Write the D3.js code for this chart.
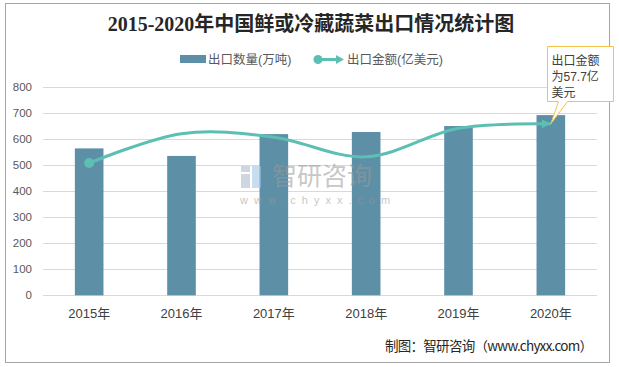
<!DOCTYPE html>
<html><head><meta charset="utf-8">
<script src="https://cdn.jsdelivr.net/npm/d3@7"></script>
<style>body{margin:0;background:#fff}svg{display:block}</style>
</head><body>
<svg id="c" width="619" height="367"></svg>
<script>
const categories = ["2015年","2016年","2017年","2018年","2019年","2020年"];
const volume = [565, 536, 620, 628, 651, 693];          // 出口数量(万吨)
const valueUSD = [44.5, 54.4, 53.2, 46.6, 56.2, 57.7];  // 出口金额(亿美元)
const yTicks = [0,100,200,300,400,500,600,700,800];
const title = "2015-2020年中国鲜或冷藏蔬菜出口情况统计图";
const seriesNames = ["出口数量(万吨)", "出口金额(亿美元)"];
const calloutLines = ["出口金额", "为57.7亿", "美元"];
const source = "制图：智研咨询（www.chyxx.com）";

const barColor = "#5d8fa6", lineColor = "#5cbfb3";
const font = "'Liberation Sans','Noto Sans CJK SC',sans-serif";
const svg = d3.select("#c");

svg.append("rect").attr("x",5.5).attr("y",3.5).attr("width",604).attr("height",359)
  .attr("fill","#fff").attr("stroke","#a6a6a6");

const x = d3.scaleBand().domain(categories).range([43, 597]).paddingInner(0.69).paddingOuter(0.345);
const y = d3.scaleLinear().domain([0, 800]).range([295.3, 87.3]);
const y2 = d3.scaleLinear().domain([0, 70]).range([295.3, 87.3]);

// grid
svg.append("g").selectAll("line").data(yTicks).join("line")
  .attr("x1",43).attr("x2",597).attr("y1",d=>Math.round(y(d))+0.5).attr("y2",d=>Math.round(y(d))+0.5)
  .attr("stroke","#d9d9d9").attr("stroke-width",1);

// y axis labels
const yAxis = d3.axisLeft(y).tickValues(yTicks).tickSize(0).tickPadding(0);
const gy = svg.append("g").attr("transform","translate(32,0)").call(yAxis);
gy.select(".domain").remove();
gy.selectAll("text").attr("font-family",font).attr("font-size",11.5).attr("fill","#595959");

// x axis labels
const xAxis = d3.axisBottom(x).tickSize(0).tickPadding(0);
const gx = svg.append("g").attr("transform","translate(0,309)").call(xAxis);
gx.select(".domain").remove();
gx.selectAll("text").attr("font-family",font).attr("font-size",13).attr("fill","#404040");

// bars
svg.append("g").selectAll("rect").data(volume).join("rect")
  .attr("x",(d,i)=>x(categories[i])).attr("width",x.bandwidth())
  .attr("y",d=>y(d)).attr("height",d=>y(0)-y(d)).attr("fill",barColor);

// watermark
const wm = svg.append("g").attr("opacity",0.55);
wm.append("rect").attr("x",241).attr("y",166).attr("width",9).attr("height",6).attr("fill","#aab4cc");
wm.append("rect").attr("x",241).attr("y",174).attr("width",9).attr("height",14).attr("fill","#aab4cc");
wm.append("rect").attr("x",252).attr("y",166).attr("width",9).attr("height",22).attr("fill","#9cc4e4");
wm.append("text").attr("x",272).attr("y",185).attr("font-family","'Noto Sans CJK SC',sans-serif")
  .attr("font-size",25).attr("fill","#9a9a9a").text("智研咨询");
wm.append("text").attr("x",240).attr("y",204).attr("font-family",font)
  .attr("font-size",11).attr("fill","#9a9a9a").attr("letter-spacing",6).text("www.chyxx.com");

// line
const cx = i => x(categories[i]) + x.bandwidth()/2;
const line = d3.line().x((d,i)=>cx(i)).y(d=>y2(d)).curve(d3.curveCatmullRom.alpha(0));
svg.append("path").datum(valueUSD).attr("d",line).attr("fill","none")
  .attr("stroke",lineColor).attr("stroke-width",3);
svg.append("circle").attr("cx",cx(0)).attr("cy",y2(valueUSD[0])).attr("r",5).attr("fill",lineColor);
// arrow head at end
{
  const n = valueUSD.length-1, ex = cx(n), ey = y2(valueUSD[n]);
  svg.append("path").attr("d",`M${ex},${ey} l-9,-4.5 l0,9 z`).attr("fill",lineColor);
}

// title
svg.append("text").attr("x",311).attr("y",31).attr("text-anchor","middle")
  .attr("font-family","'Liberation Serif','Noto Sans CJK SC',serif").attr("font-weight","bold")
  .attr("font-size",20).attr("fill","#262626").text(title);

// legend
const lg = svg.append("g").attr("font-family",font).attr("font-size",12.5).attr("fill","#595959");
lg.append("rect").attr("x",180).attr("y",55).attr("width",26).attr("height",8).attr("fill",barColor);
lg.append("text").attr("x",208).attr("y",64).text(seriesNames[0]);
lg.append("line").attr("x1",318).attr("x2",338).attr("y1",59.5).attr("y2",59.5).attr("stroke",lineColor).attr("stroke-width",3);
lg.append("circle").attr("cx",318).attr("cy",59.5).attr("r",4.5).attr("fill",lineColor);
lg.append("path").attr("d","M344,59.5 l-8,-4.5 l0,9 z").attr("fill",lineColor);
lg.append("text").attr("x",347).attr("y",64).text(seriesNames[1]);

// callout
{
  const n = valueUSD.length-1, ex = cx(n), ey = y2(valueUSD[n]);
  const bx = 547.5, by = 46.5, bw = 66, bh = 55;
  const p = `M${bx},${by} H${bx+bw} V${by+bh} H${bx+20} L${ex},${ey} L${bx+11},${by+bh} H${bx} Z`;
  svg.append("path").attr("d",p).attr("fill","#fff").attr("stroke","#f4c24a").attr("stroke-width",1);
  svg.append("g").selectAll("text").data(calloutLines).join("text")
    .attr("x",bx+4).attr("y",(d,i)=>by+18+i*16).attr("font-family",font)
    .attr("font-size",12).attr("fill","#404040").text(d=>d);
}

// source
svg.append("text").attr("x",385).attr("y",351).attr("font-family","'Noto Sans CJK SC','DejaVu Sans Mono',monospace")
  .attr("font-size",13.5).attr("fill","#262626").attr("textLength",208).attr("lengthAdjust","spacing").text(source);
</script>
</body></html>
